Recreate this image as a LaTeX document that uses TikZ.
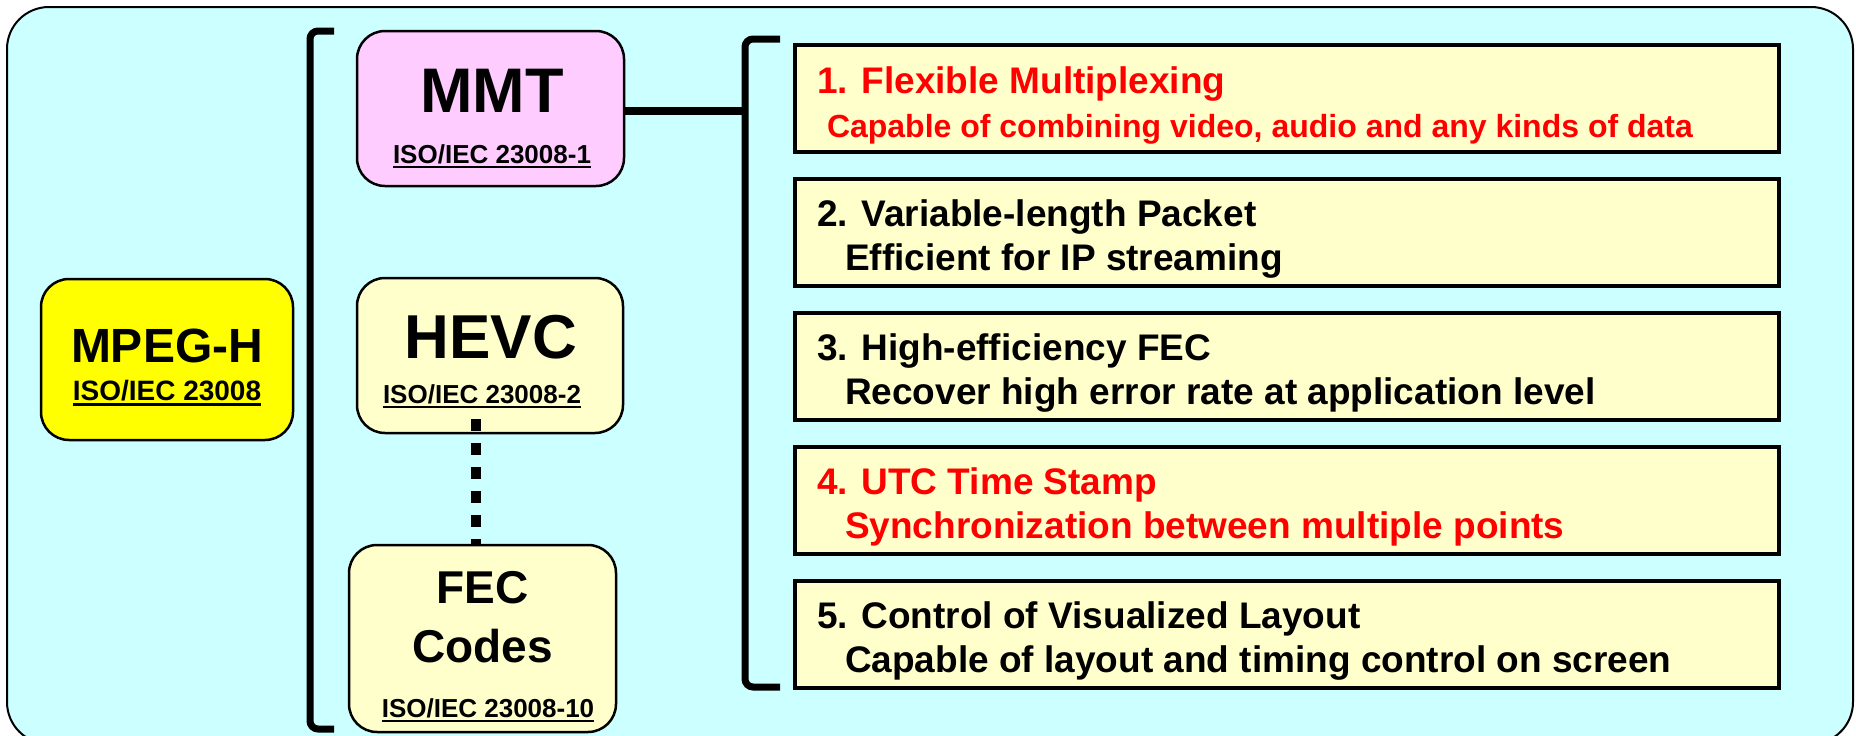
\documentclass[tikz,border=0pt]{standalone}
\usepackage{fontspec}
\setmainfont{Liberation Sans}
\definecolor{bgcyan}{HTML}{CCFFFF}
\definecolor{paleyel}{HTML}{FFFFCC}
\definecolor{pinkfill}{HTML}{FFCCFF}
\definecolor{yelfill}{HTML}{FFFF00}
\definecolor{redtxt}{HTML}{FF0000}
\newcommand\ulx[1]{\setbox0\hbox{#1}\rlap{\copy0}\rule[-0.2em]{\wd0}{0.09em}}
\newcommand\fsz[1]{\fontsize{#1}{#1}\selectfont\bfseries}
\tikzset{
  rbox/.style={draw, line width=2.5, rounded corners=28, inner sep=0},
  fbox/.style={draw, line width=4, fill=paleyel, inner sep=0, minimum width=984, minimum height=107},
  txt/.style={inner sep=0, outer sep=0},
  bigt/.style={txt, anchor=base, font=\fsz{62}},
  isot/.style={txt, anchor=base, font=\fsz{26}},
  ttl/.style={txt, anchor=base west, font=\fsz{37}},
  sub/.style={txt, anchor=base west, font=\fsz{37}},
  brk/.style={line width=7, rounded corners=8},
}
\begin{document}
\begin{tikzpicture}[x=1pt,y=-1pt]
\useasboundingbox (0,0) rectangle (1856,736);
\begin{scope}
\clip (0,0) rectangle (1856,736);
\draw[fill=bgcyan, line width=2, rounded corners=42] (7,7) rectangle (1853,744);
\end{scope}

% left column
\node[rbox, fill=yelfill, minimum width=252, minimum height=161] (mpegh) at (167,359.5) {};
\node[txt, anchor=base, font=\fsz{48}] (mpeghT) at (167,362) {MPEG-H};
\node[txt, anchor=base, font=\fsz{28}] (mpeghI) at (167,400) {\ulx{ISO/IEC 23008}};

% left bracket
\draw[brk] (334,31) -- (310,31) -- (310,729) -- (334,729);

% middle column
\node[rbox, fill=pinkfill, minimum width=267, minimum height=155] (mmt) at (490.5,108.5) {};
\node[bigt, font=\fsz{63}] (mmtT) at (492,112) {MMT};
\node[isot] (mmtI) at (492,163) {\ulx{ISO/IEC 23008-1}};

\node[rbox, fill=paleyel, minimum width=266, minimum height=155] (hevc) at (490,355.5) {};
\node[bigt] (hevcT) at (491,358) {HEVC};
\node[isot] (hevcI) at (482,403) {\ulx{ISO/IEC 23008-2}};

\node[rbox, fill=paleyel, minimum width=267, minimum height=187] (fec) at (482.5,638.5) {};
\node[txt, anchor=base, font=\fsz{46}] (fecT) at (482.5,603) {FEC};
\node[txt, anchor=base, font=\fsz{46}] (fecC) at (482.5,662) {Codes};
\node[isot] (fecI) at (488,717) {\ulx{ISO/IEC 23008-10}};

\coordinate (d1) at (476,419);
\draw[line width=10, dash pattern=on 12 off 12] (d1) -- (d1 |- fec.north);

% connector MMT -> bracket
\coordinate (rb) at (745,111);
\draw[line width=8] (mmt.east |- rb) -- (rb);

% right bracket
\draw[brk] (780,39) -- (745,39) -- (745,687) -- (780,687);

% feature boxes
\node[fbox] (f1) at (1287,98.5) {};
\node[fbox] (f2) at (1287,232.5) {};
\node[fbox] (f3) at (1287,366.5) {};
\node[fbox] (f4) at (1287,500.5) {};
\node[fbox] (f5) at (1287,634.5) {};

\node[ttl, text=redtxt] (t1) at (817,93) {1. Flexible Multiplexing};
\node[sub, text=redtxt, font=\fsz{32}] (s1) at (827,137) {Capable of combining video, audio and any kinds of data};

\node[ttl] (t2) at (817,226) {2. Variable-length Packet};
\node[sub] (s2) at (845,270) {Efficient for IP streaming};

\node[ttl] (t3) at (817,360) {3. High-efficiency FEC};
\node[sub] (s3) at (845,404) {Recover high error rate at application level};

\node[ttl, text=redtxt] (t4) at (817,494) {4. UTC Time Stamp};
\node[sub, text=redtxt] (s4) at (845,538) {Synchronization between multiple points};

\node[ttl] (t5) at (817,628) {5. Control of Visualized Layout};
\node[sub] (s5) at (845,672) {Capable of layout and timing control on screen};
\end{tikzpicture}
\end{document}
